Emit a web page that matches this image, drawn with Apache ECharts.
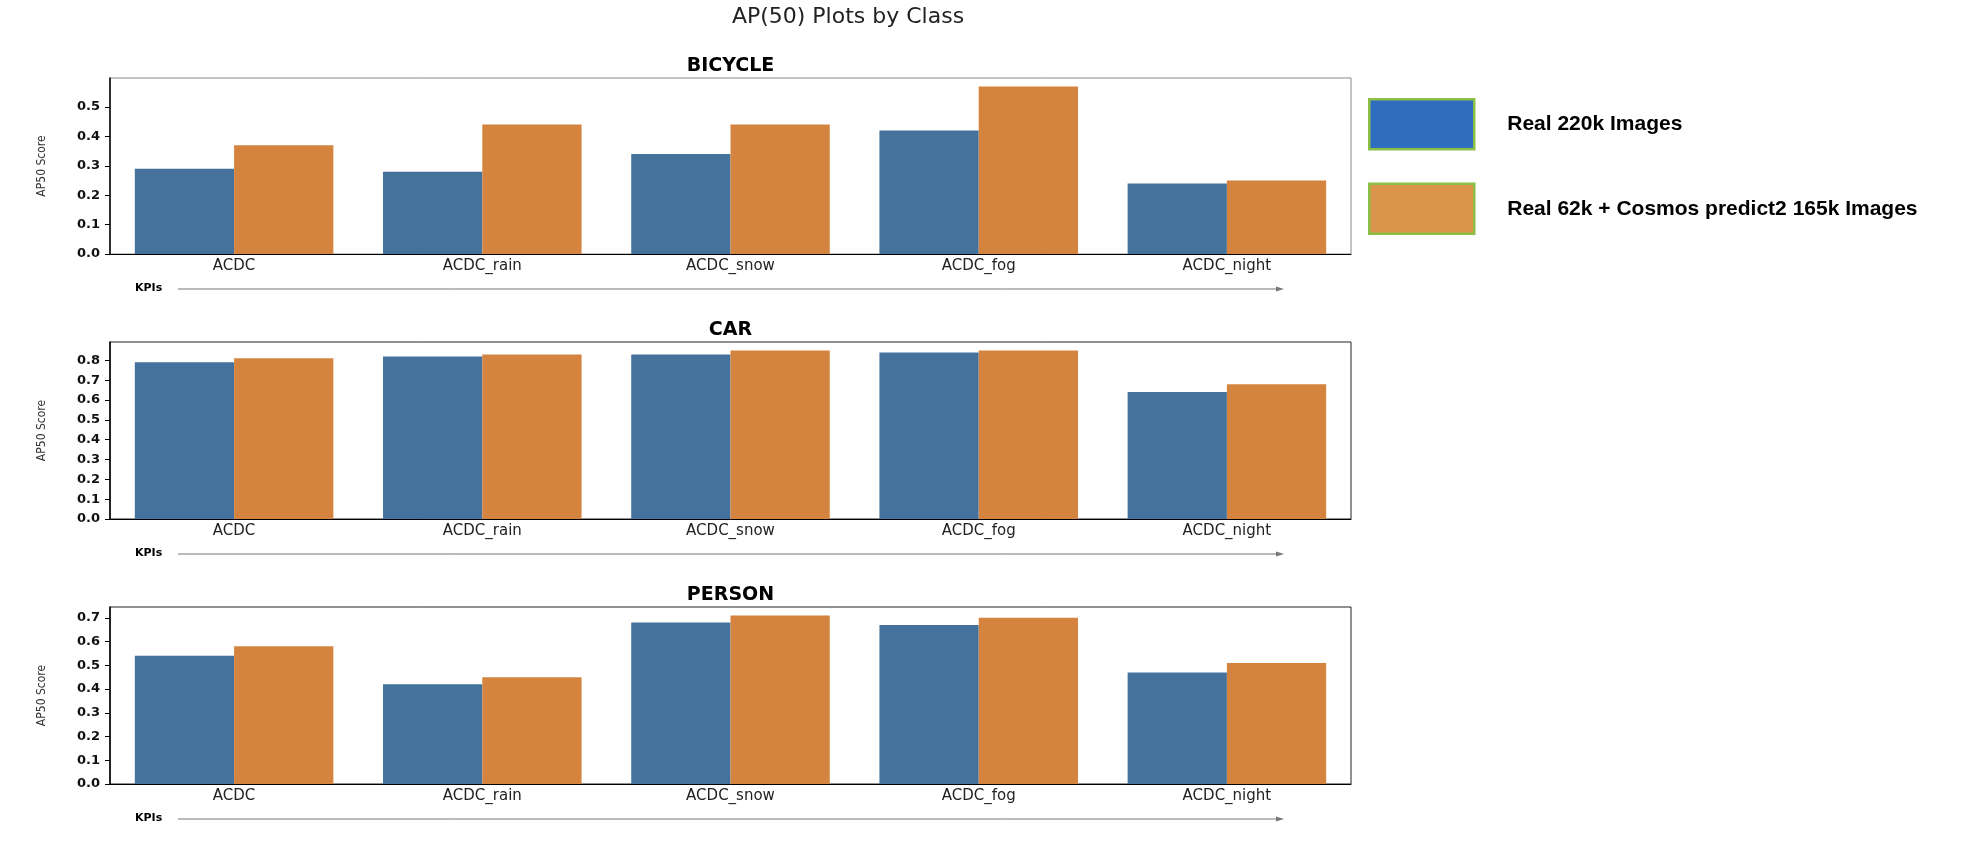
<!DOCTYPE html>
<html>
<head>
<meta charset="utf-8">
<script src="https://cdn.jsdelivr.net/npm/echarts@6/dist/echarts.min.js"></script>
<style>
html,body{margin:0;padding:0;background:#fff;}
#chart{width:1984px;height:858px;}
</style>
</head>
<body>
<div id="chart"></div>
<script>
// ---- data ----
const categories = ['ACDC', 'ACDC_rain', 'ACDC_snow', 'ACDC_fog', 'ACDC_night'];
const classNames = ['BICYCLE', 'CAR', 'PERSON'];
const seriesNames = ['Real 220k Images', 'Real 62k + Cosmos predict2 165k Images'];
const bicycleReal = [0.29, 0.28, 0.34, 0.42, 0.24];
const bicycleCosmos = [0.37, 0.44, 0.44, 0.57, 0.25];
const carReal = [0.79, 0.82, 0.83, 0.84, 0.64];
const carCosmos = [0.81, 0.83, 0.85, 0.85, 0.68];
const personReal = [0.54, 0.42, 0.68, 0.67, 0.47];
const personCosmos = [0.58, 0.45, 0.71, 0.70, 0.51];
const yMax = [0.5985, 0.8925, 0.7455];
const mainTitle = 'AP(50) Plots by Class';
const yAxisName = 'AP50 Score';
const kpiLabel = 'KPIs';

const realData = [bicycleReal, carReal, personReal];
const cosmosData = [bicycleCosmos, carCosmos, personCosmos];

// ---- layout ----
const gridLeft = 110, gridWidth = 1241;
const gridTops = [78, 342, 607];
const gridHeights = [176, 177, 177];
const barColors = ['#44729D', '#D4843F'];
const legendColors = ['#2F6DBE', '#DB944B'];
const font = 'DejaVu Sans';

const chart = echarts.init(document.getElementById('chart'));

const titles = [{
  text: mainTitle, left: 848, top: 6, padding: 0, textAlign: 'center',
  textStyle: {fontFamily: font, fontSize: 22, fontWeight: 'normal', color: '#222'}
}];
const grids = [], xAxes = [], yAxes = [], series = [], graphics = [];

for (let i = 0; i < 3; i++) {
  titles.push({
    text: classNames[i], left: gridLeft + gridWidth / 2, top: gridTops[i] - 21, padding: 0, textAlign: 'center',
    textStyle: {fontFamily: font, fontSize: 19, fontWeight: 'bold', color: '#000'}
  });
  grids.push({
    left: gridLeft, top: gridTops[i], width: gridWidth, height: gridHeights[i],
    show: true, borderColor: i === 0 ? '#888' : '#222', borderWidth: 1, backgroundColor: 'transparent'
  });
  xAxes.push({
    type: 'category', gridIndex: i, data: categories,
    axisLine: {lineStyle: {color: '#000', width: 1}},
    axisTick: {alignWithLabel: true, length: 4, lineStyle: {color: '#000'}},
    axisLabel: {fontFamily: font, fontSize: 15, color: '#222', margin: 5}
  });
  yAxes.push({
    type: 'value', gridIndex: i, min: 0, max: yMax[i], interval: 0.1,
    name: yAxisName, nameLocation: 'middle', nameRotate: 90, nameGap: 62,
    nameTextStyle: {fontFamily: 'DejaVu Sans Condensed', fontSize: 12, color: '#333'},
    splitLine: {show: false},
    axisLine: {show: true, lineStyle: {color: '#000', width: 1.5}},
    axisTick: {show: true, length: 5, lineStyle: {color: '#000'}},
    axisLabel: {
      fontFamily: font, fontSize: 13, fontWeight: 'bold', color: '#111', margin: 10,
      showMaxLabel: false, formatter: v => v.toFixed(1)
    }
  });
  series.push({
    name: seriesNames[0], type: 'bar', xAxisIndex: i, yAxisIndex: i, data: realData[i],
    barGap: '0%', barCategoryGap: '20%', itemStyle: {color: barColors[0]}
  });
  series.push({
    name: seriesNames[1], type: 'bar', xAxisIndex: i, yAxisIndex: i, data: cosmosData[i],
    barGap: '0%', barCategoryGap: '20%', itemStyle: {color: barColors[1]}
  });
  const ky = gridTops[i] + gridHeights[i] + 35;
  graphics.push({
    type: 'text', left: 135, top: ky - 6,
    style: {text: kpiLabel, font: 'bold 11px "DejaVu Sans"', fill: '#000'}
  });
  graphics.push({
    type: 'line', shape: {x1: 178, y1: ky, x2: 1280, y2: ky},
    style: {stroke: '#777', lineWidth: 1}
  });
  graphics.push({
    type: 'polygon', shape: {points: [[1276, ky - 2.5], [1284, ky], [1276, ky + 2.5]]},
    style: {fill: '#777'}
  });
}

chart.setOption({
  animation: false,
  backgroundColor: '#fff',
  title: titles,
  grid: grids,
  xAxis: xAxes,
  yAxis: yAxes,
  series: series,
  graphic: graphics,
  legend: {
    orient: 'vertical', left: 1368, top: 98, padding: 0,
    itemWidth: 105, itemHeight: 50, itemGap: 32, icon: 'rect',
    textStyle: {fontFamily: 'Liberation Sans', fontSize: 21, fontWeight: 'bold', color: '#000', padding: [0, 0, 0, 28]},
    data: [
      {name: seriesNames[0], itemStyle: {color: legendColors[0], borderColor: '#8CBF45', borderWidth: 2.5}},
      {name: seriesNames[1], itemStyle: {color: legendColors[1], borderColor: '#8CBF45', borderWidth: 2.5}}
    ]
  }
});
</script>
</body>
</html>
